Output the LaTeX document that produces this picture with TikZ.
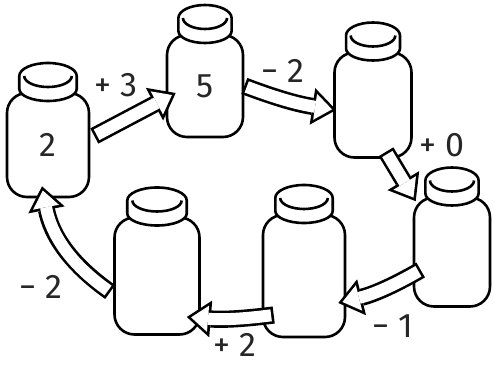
\documentclass[tikz,border=0pt]{standalone}
\usepackage{fontspec}
\setmainfont{Fira Sans}
\usetikzlibrary{arrows.meta}
\tikzset{>=stealth}
\tikzset{
  jarbody/.style={draw, fill=white, rectangle, rounded corners=20pt, inner sep=0pt,
    font=\fontsize{34}{40}\selectfont, text=black!85},
  pics/jar/.style n args={3}{code={
    \node[jarbody, minimum width=#2pt, minimum height=#3pt] (-body) {#1};
    \draw[fill=white] (-0.35*#2,#3/2+17) arc[start angle=180, end angle=0, x radius=0.35*#2, y radius=13]
      -- (0.35*#2,#3/2+4) arc[start angle=0, end angle=-180, x radius=0.35*#2, y radius=12] -- cycle;
    \draw (-0.29*#2,#3/2+17) arc[start angle=180, end angle=360, x radius=0.29*#2, y radius=11];
  }},
  outerhead/.tip={Triangle[length=24pt, width=37pt, line width=0pt]},
  innerhead/.tip={Triangle[length=17pt, width=26.2pt, line width=0pt]},
}
\newcommand\blockarrow[3][]{% [bend] from, to
  \draw[line width=17.2pt, -outerhead] #2 to[#1] #3;
  \draw[white, line width=12pt, shorten >=4.3pt, shorten <=2.6pt, -innerhead] #2 to[#1] #3;
}

\begin{document}
\begin{tikzpicture}[x=1pt, y=1pt, line width=2.6pt,
  lbl/.style={font=\fontsize{34}{40}\selectfont, text=black!85, inner sep=0pt}]
    \useasboundingbox (0,0) rectangle (496,367);
    % jars
    \pic (j1) at (48,222) {jar={2}{82}{104}};
    \pic (j2) at (205,281) {jar={5}{76}{102}};
    \pic (j3) at (373,262) {jar={}{77}{105}};
    \pic (j4) at (452,115) {jar={}{76}{109}};
    \pic (j5) at (304,91) {jar={}{82}{122}};
    \pic (j6) at (157,91) {jar={}{85}{117}};
    % arrows
    \blockarrow{([shift={(4,9)}]j1-body.east)}{([shift={(10,-7)}]j2-body.west)}
    \blockarrow[bend right=6]{(j2-body.east)}{([shift={(3,-5)}]j3-body.west)}
    \blockarrow{([shift={(13,7)}]j3-body.south)}{([shift={(3,-5)}]j4-body.north west)}
    \blockarrow[bend left=8]{([shift={(8,-18)}]j4-body.west)}{([shift={(-8,-27)}]j5-body.east)}
    \blockarrow[bend left=6]{([shift={(12,-39)}]j5-body.west)}{([shift={(-14,-41)}]j6-body.east)}
    \blockarrow[bend left=22]{([shift={(-3,-16)}]j6-body.west)}{([shift={(-6,12)}]j1-body.south)}
    % labels
    \node[lbl] (l1) at (116,282) {+ 3};
    \node[lbl] (l2) at (283,296) {− 2};
    \node[lbl] (l3) at (442,222) {+ 0};
    \node[lbl] (l4) at (393,41) {− 1};
    \node[lbl] (l5) at (235,22) {+ 2};
    \node[lbl] (l6) at (41,80) {− 2};
\end{tikzpicture}
\end{document}
